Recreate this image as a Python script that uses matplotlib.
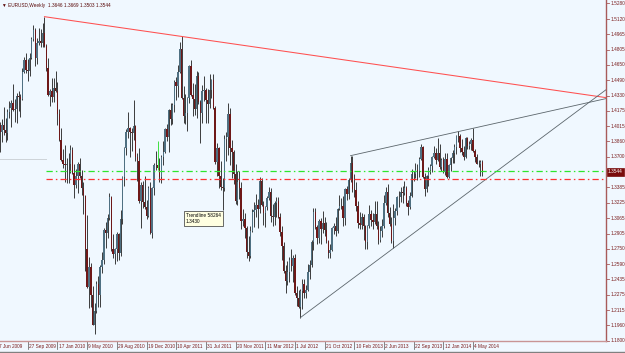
import numpy as np
import matplotlib.pyplot as plt
from matplotlib.transforms import blended_transform_factory

plt.rcParams['font.family'] = ['Liberation Sans', 'DejaVu Sans']

# weekly EURUSD bars, first bar = week of 7 Jun 2009
symbol = "EURUSD,Weekly"
first_open = 1.3990
closes = [
    1.4030, 1.3960, 1.4030, 1.3980, 1.3940, 1.4160, 1.4200, 1.4250, 1.4180, 1.4190,
    1.4330, 1.4320, 1.4300, 1.4570, 1.4700, 1.4590, 1.4580, 1.4720, 1.4910, 1.5010,
    1.4720, 1.4870, 1.4890, 1.4870, 1.4980, 1.4840, 1.4620, 1.4340, 1.4380, 1.4320,
    1.4410, 1.4380, 1.4140, 1.3870, 1.3670, 1.3620, 1.3610, 1.3630, 1.3620, 1.3770,
    1.3530, 1.3410, 1.3500, 1.3620, 1.3500, 1.3380, 1.3300, 1.2750, 1.2360, 1.2560,
    1.2270, 1.1970, 1.2110, 1.2390, 1.2270, 1.2560, 1.2640, 1.2940, 1.2910, 1.3070,
    1.3280, 1.2750, 1.2700, 1.2750, 1.2900, 1.2710, 1.3060, 1.3490, 1.3790, 1.3950,
    1.4000, 1.3950, 1.3940, 1.4020, 1.3700, 1.3660, 1.3240, 1.3410, 1.3230, 1.3180,
    1.3090, 1.3380, 1.2910, 1.3380, 1.3610, 1.3610, 1.3580, 1.3490, 1.3700, 1.3750,
    1.3990, 1.3900, 1.4180, 1.4090, 1.4230, 1.4470, 1.4430, 1.4570, 1.4810, 1.4310,
    1.4120, 1.4150, 1.4310, 1.4640, 1.4340, 1.4300, 1.4190, 1.4530, 1.4260, 1.4150,
    1.4380, 1.4390, 1.4280, 1.4240, 1.4390, 1.4490, 1.4200, 1.3650, 1.3790, 1.3500,
    1.3390, 1.3380, 1.3880, 1.3900, 1.4140, 1.3790, 1.3750, 1.3520, 1.3240, 1.3440,
    1.3380, 1.3040, 1.3060, 1.2960, 1.2720, 1.2680, 1.2930, 1.3130, 1.3150, 1.3200,
    1.3160, 1.3450, 1.3200, 1.3120, 1.3180, 1.3270, 1.3340, 1.3090, 1.3080, 1.3220,
    1.3240, 1.3080, 1.2920, 1.2780, 1.2520, 1.2420, 1.2510, 1.2640, 1.2570, 1.2660,
    1.2290, 1.2240, 1.2150, 1.2320, 1.2390, 1.2290, 1.2330, 1.2510, 1.2580, 1.2820,
    1.3130, 1.2980, 1.2860, 1.3040, 1.2950, 1.3020, 1.2940, 1.2830, 1.2710, 1.2740,
    1.2970, 1.2990, 1.2930, 1.3160, 1.3190, 1.3190, 1.3070, 1.3370, 1.3320, 1.3460,
    1.3640, 1.3370, 1.3360, 1.3190, 1.3020, 1.3000, 1.3080, 1.2990, 1.2820, 1.2990,
    1.3110, 1.3050, 1.3030, 1.3110, 1.2990, 1.2840, 1.2930, 1.2990, 1.3220, 1.3340,
    1.3120, 1.3010, 1.2830, 1.3070, 1.3140, 1.3280, 1.3280, 1.3340, 1.3330, 1.3380,
    1.3220, 1.3180, 1.3290, 1.3520, 1.3520, 1.3560, 1.3550, 1.3680, 1.3800, 1.3490,
    1.3370, 1.3500, 1.3560, 1.3600, 1.3700, 1.3740, 1.3670, 1.3740, 1.3590, 1.3670,
    1.3540, 1.3680, 1.3490, 1.3610, 1.3690, 1.3740, 1.3800, 1.3910, 1.3910, 1.3790,
    1.3750, 1.3700, 1.3890, 1.3810, 1.3830, 1.3870, 1.3760, 1.3700, 1.3630, 1.3630,
    1.3646, 1.3544,
]
highs = [
    1.4130, 1.4060, 1.4090, 1.4210, 1.4100, 1.4190, 1.4270, 1.4290, 1.4450, 1.4300,
    1.4360, 1.4380, 1.4350, 1.4610, 1.4730, 1.4770, 1.4710, 1.4770, 1.4930, 1.5060,
    1.5030, 1.4920, 1.5030, 1.5020, 1.5080, 1.5144, 1.4860, 1.4720, 1.4400, 1.4510,
    1.4510, 1.4580, 1.4470, 1.4190, 1.4000, 1.3780, 1.3820, 1.3690, 1.3740, 1.3820,
    1.3800, 1.3630, 1.3570, 1.3650, 1.3690, 1.3560, 1.3440, 1.3310, 1.3100, 1.2670,
    1.2600, 1.2370, 1.2190, 1.2420, 1.2470, 1.2580, 1.2720, 1.2970, 1.3030, 1.3110,
    1.3330, 1.3290, 1.2900, 1.2760, 1.2920, 1.2910, 1.3150, 1.3500, 1.3800, 1.3990,
    1.4160, 1.4010, 1.4000, 1.4282, 1.4030, 1.3740, 1.3790, 1.3440, 1.3450, 1.3500,
    1.3250, 1.3400, 1.3440, 1.3390, 1.3640, 1.3760, 1.3860, 1.3690, 1.3720, 1.3860,
    1.4000, 1.4040, 1.4190, 1.4250, 1.4250, 1.4490, 1.4520, 1.4650, 1.4880, 1.4940,
    1.4430, 1.4350, 1.4320, 1.4650, 1.4700, 1.4460, 1.4450, 1.4580, 1.4570, 1.4280,
    1.4440, 1.4530, 1.4410, 1.4400, 1.4550, 1.4500, 1.4550, 1.4220, 1.3840, 1.3800,
    1.3660, 1.3480, 1.3920, 1.3950, 1.4250, 1.4200, 1.3870, 1.3770, 1.3620, 1.3550,
    1.3550, 1.3440, 1.3160, 1.3120, 1.2990, 1.2880, 1.2990, 1.3160, 1.3230, 1.3320,
    1.3260, 1.3486, 1.3480, 1.3240, 1.3190, 1.3290, 1.3390, 1.3380, 1.3210, 1.3240,
    1.3280, 1.3280, 1.3120, 1.2990, 1.2820, 1.2580, 1.2630, 1.2670, 1.2750, 1.2690,
    1.2700, 1.2370, 1.2330, 1.2340, 1.2440, 1.2440, 1.2380, 1.2590, 1.2640, 1.2840,
    1.3170, 1.3170, 1.3000, 1.3060, 1.3070, 1.3140, 1.3080, 1.3030, 1.2840, 1.2800,
    1.2980, 1.3020, 1.3080, 1.3170, 1.3310, 1.3270, 1.3300, 1.3380, 1.3400, 1.3480,
    1.3711, 1.3710, 1.3520, 1.3440, 1.3240, 1.3130, 1.3120, 1.3110, 1.3000, 1.3000,
    1.3200, 1.3150, 1.3120, 1.3240, 1.3240, 1.3040, 1.2990, 1.3060, 1.3310, 1.3390,
    1.3420, 1.3180, 1.3080, 1.3210, 1.3170, 1.3300, 1.3350, 1.3390, 1.3400, 1.3450,
    1.3400, 1.3250, 1.3340, 1.3570, 1.3550, 1.3640, 1.3620, 1.3700, 1.3830, 1.3810,
    1.3530, 1.3510, 1.3590, 1.3620, 1.3710, 1.3810, 1.3790, 1.3893, 1.3830, 1.3690,
    1.3700, 1.3740, 1.3740, 1.3620, 1.3700, 1.3770, 1.3830, 1.3920, 1.3967, 1.3930,
    1.3880, 1.3810, 1.3900, 1.3900, 1.3860, 1.3890, 1.3993, 1.3780, 1.3730, 1.3670,
    1.3670, 1.3669,
]
lows = [
    1.3860, 1.3750, 1.3850, 1.3920, 1.3850, 1.3870, 1.4100, 1.4010, 1.4170, 1.4060,
    1.4050, 1.4170, 1.4110, 1.4290, 1.4560, 1.4560, 1.4480, 1.4530, 1.4710, 1.4890,
    1.4640, 1.4660, 1.4850, 1.4830, 1.4830, 1.4830, 1.4580, 1.4330, 1.4220, 1.4260,
    1.4260, 1.4370, 1.4030, 1.3860, 1.3660, 1.3580, 1.3440, 1.3430, 1.3430, 1.3530,
    1.3520, 1.3270, 1.3380, 1.3330, 1.3480, 1.3310, 1.3110, 1.2520, 1.2350, 1.2140,
    1.2150, 1.1960, 1.1876, 1.2090, 1.2150, 1.2150, 1.2500, 1.2590, 1.2760, 1.2860,
    1.3050, 1.2730, 1.2660, 1.2590, 1.2630, 1.2640, 1.2680, 1.3010, 1.3400, 1.3720,
    1.3890, 1.3700, 1.3760, 1.3870, 1.3660, 1.3450, 1.3220, 1.2969, 1.3170, 1.3160,
    1.3060, 1.3080, 1.2900, 1.2867, 1.3310, 1.3560, 1.3560, 1.3440, 1.3430, 1.3610,
    1.3740, 1.3860, 1.3750, 1.4030, 1.4040, 1.4160, 1.4280, 1.4320, 1.4560, 1.4300,
    1.4050, 1.4040, 1.3970, 1.4250, 1.4330, 1.4120, 1.4130, 1.4100, 1.4240, 1.3840,
    1.4050, 1.4270, 1.4050, 1.4050, 1.4200, 1.4310, 1.4190, 1.3630, 1.3500, 1.3380,
    1.3360, 1.3150, 1.3350, 1.3660, 1.3720, 1.3610, 1.3480, 1.3420, 1.3210, 1.3200,
    1.3260, 1.2950, 1.2990, 1.2860, 1.2660, 1.2624, 1.2660, 1.2920, 1.2980, 1.3080,
    1.2970, 1.3120, 1.3190, 1.3000, 1.2980, 1.3150, 1.3250, 1.3030, 1.2990, 1.3000,
    1.3080, 1.3070, 1.2880, 1.2640, 1.2500, 1.2290, 1.2380, 1.2410, 1.2520, 1.2410,
    1.2270, 1.2160, 1.2140, 1.2042, 1.2130, 1.2240, 1.2240, 1.2320, 1.2440, 1.2560,
    1.2740, 1.2950, 1.2800, 1.2810, 1.2800, 1.2910, 1.2880, 1.2810, 1.2660, 1.2660,
    1.2730, 1.2900, 1.2880, 1.2910, 1.3150, 1.3160, 1.2990, 1.3000, 1.3250, 1.3260,
    1.3440, 1.3340, 1.3280, 1.3140, 1.2970, 1.2950, 1.2950, 1.2840, 1.2750, 1.2745,
    1.2960, 1.2990, 1.2950, 1.3010, 1.2950, 1.2800, 1.2820, 1.2870, 1.2960, 1.3200,
    1.3080, 1.2990, 1.2810, 1.2755, 1.3000, 1.3100, 1.3180, 1.3230, 1.3220, 1.3310,
    1.3190, 1.3100, 1.3160, 1.3280, 1.3450, 1.3480, 1.3460, 1.3490, 1.3670, 1.3480,
    1.3300, 1.3340, 1.3400, 1.3520, 1.3540, 1.3690, 1.3630, 1.3660, 1.3570, 1.3550,
    1.3530, 1.3510, 1.3480, 1.3477, 1.3550, 1.3640, 1.3640, 1.3730, 1.3850, 1.3750,
    1.3720, 1.3670, 1.3690, 1.3780, 1.3780, 1.3770, 1.3750, 1.3650, 1.3620, 1.3590,
    1.3500, 1.3503,
]

date_labels = ["7 Jun 2009", "27 Sep 2009", "17 Jan 2010", "9 May 2010", "29 Aug 2010",
               "19 Dec 2010", "10 Apr 2011", "31 Jul 2011", "20 Nov 2011", "11 Mar 2012",
               "1 Jul 2012", "21 Oct 2012", "10 Feb 2013", "2 Jun 2013", "22 Sep 2013",
               "12 Jan 2014", "4 May 2014"]
label_step = 16
price_labels = ["1.5280", "1.5120", "1.4965", "1.4805", "1.4650", "1.4490", "1.4330",
                "1.4175", "1.4015", "1.3860", "1.3700", "1.3385", "1.3225", "1.3065",
                "1.2905", "1.2750", "1.2590", "1.2435", "1.2275", "1.2115", "1.1960",
                "1.1800"]

# chart objects
red_anchor = [25, 99]       # falling line through the two highs
upper_anchor = [190, 256]   # wedge top, highs
lower_anchor = [163, 213]   # wedge bottom, lows
green_level = 1.3557
red_level = 1.3470
gray_level = 1.3680
level_start = 26
highlight_bar = 86
tooltip_text = "Trendline 58264\n1.3430"

closes = np.array(closes)
highs = np.array(highs)
lows = np.array(lows)
opens = np.r_[first_open, closes[:-1]]
x = np.arange(len(closes))

bg = '#f0f8ff'
axis_col = '#a85a5a'
txt_col = '#7a1c1c'
fs = 3.4

fig = plt.figure(figsize=(6.25, 3.53), dpi=100)
fig.patch.set_facecolor(bg)
ax = fig.add_axes([0, 12 / 353, 606 / 625, 341 / 353])
ax.set_facecolor(bg)
xmin, xmax = 1.02, 327.7
ax.set_xlim(xmin, xmax)
ax.set_ylim(1.1800, 1.5316)

# candles
up = closes >= opens
wick_cols = ['#1e1e1e'] * len(x)
wick_cols[highlight_bar] = '#22dd22'
ax.vlines(x, lows, highs, colors=wick_cols, lw=0.6, zorder=3)
ax.bar(x, closes - opens, bottom=opens, width=0.75,
       color=np.where(up, '#4f7082', '#6e1818'), lw=0, zorder=4)

# trend lines, extended to the right edge
def ray(idx, prices, **kw):
    x0, x1 = idx
    p0, p1 = prices
    k = (p1 - p0) / (x1 - x0)
    ax.plot([x0, xmax], [p0, p0 + k * (xmax - x0)], zorder=5, **kw)

ray(red_anchor, highs[red_anchor], color='#ff5050', lw=0.75)
ray(upper_anchor, highs[upper_anchor], color='#5c666c', lw=0.6)
ray(lower_anchor, lows[lower_anchor], color='#5c666c', lw=0.6)

ax.plot([level_start, xmax], [green_level] * 2, color='#2ee62e', lw=0.9,
        ls=(0, (5, 2.5, 1.2, 2.5)), zorder=6)
ax.plot([level_start, xmax], [red_level] * 2, color='#ff3030', lw=0.9,
        ls=(0, (5, 2.5, 1.2, 2.5)), zorder=6)
ax.plot([xmin, level_start], [gray_level] * 2, color='#cdd3d8', lw=0.7, zorder=1)

ax.text(101.3, 1.3118, tooltip_text, fontsize=fs, va='top', ha='left', zorder=7,
        linespacing=1.3,
        bbox=dict(boxstyle='square,pad=0.45', fc='#ffffe1', ec='#303030', lw=0.5))

# axes frame
for s in ['left', 'top']:
    ax.spines[s].set_visible(False)
ax.spines['right'].set_color(axis_col)
ax.spines['right'].set_linewidth(1.0)
ax.spines['bottom'].set_color('#c99595')
ax.spines['bottom'].set_linewidth(1.0)
ax.set_xticks([])
ax.set_yticks([])

# price scale
ty = blended_transform_factory(ax.transAxes, ax.transData)
for lab in price_labels:
    p = float(lab)
    ax.plot([1.0, 1.0 + 3 / 606], [p, p], transform=ty, color=axis_col, lw=0.6,
            clip_on=False)
    ax.text(1.0 + 5 / 606, p, lab, transform=ty, fontsize=fs, color=txt_col,
            va='center', ha='left', clip_on=False)
ax.text(1.0 + 2 / 606, closes[-1], f"{closes[-1]:.4f}", transform=ty, fontsize=fs,
        color='white', va='center', ha='left', clip_on=False,
        bbox=dict(boxstyle='square,pad=0.25', fc='#7a0c0c', ec='#7a0c0c', lw=0.5))

# date scale
tx = blended_transform_factory(ax.transData, ax.transAxes)
for k, lab in enumerate(date_labels):
    i = k * label_step
    ax.plot([i, i], [0, -8 / 341], transform=tx, color='#555555', lw=0.5, clip_on=False)
    ax.text(i + 0.7, -5.5 / 341, lab, transform=tx, fontsize=fs, color=txt_col,
            va='center', ha='left', clip_on=False)

# header
fig.text(2 / 625, 1 - 5 / 353,
         f"\u25bc {symbol}  {opens[-1]:.4f} {highs[-1]:.4f} {lows[-1]:.4f} {closes[-1]:.4f}",
         fontsize=fs, color='#5a0a0a', va='center', ha='left')

fig.add_artist(plt.Line2D([0, 1], [1.5 / 353, 1.5 / 353], color='#808080', lw=1,
                          transform=fig.transFigure))

fig.savefig('out.png', dpi=100, facecolor=bg)
